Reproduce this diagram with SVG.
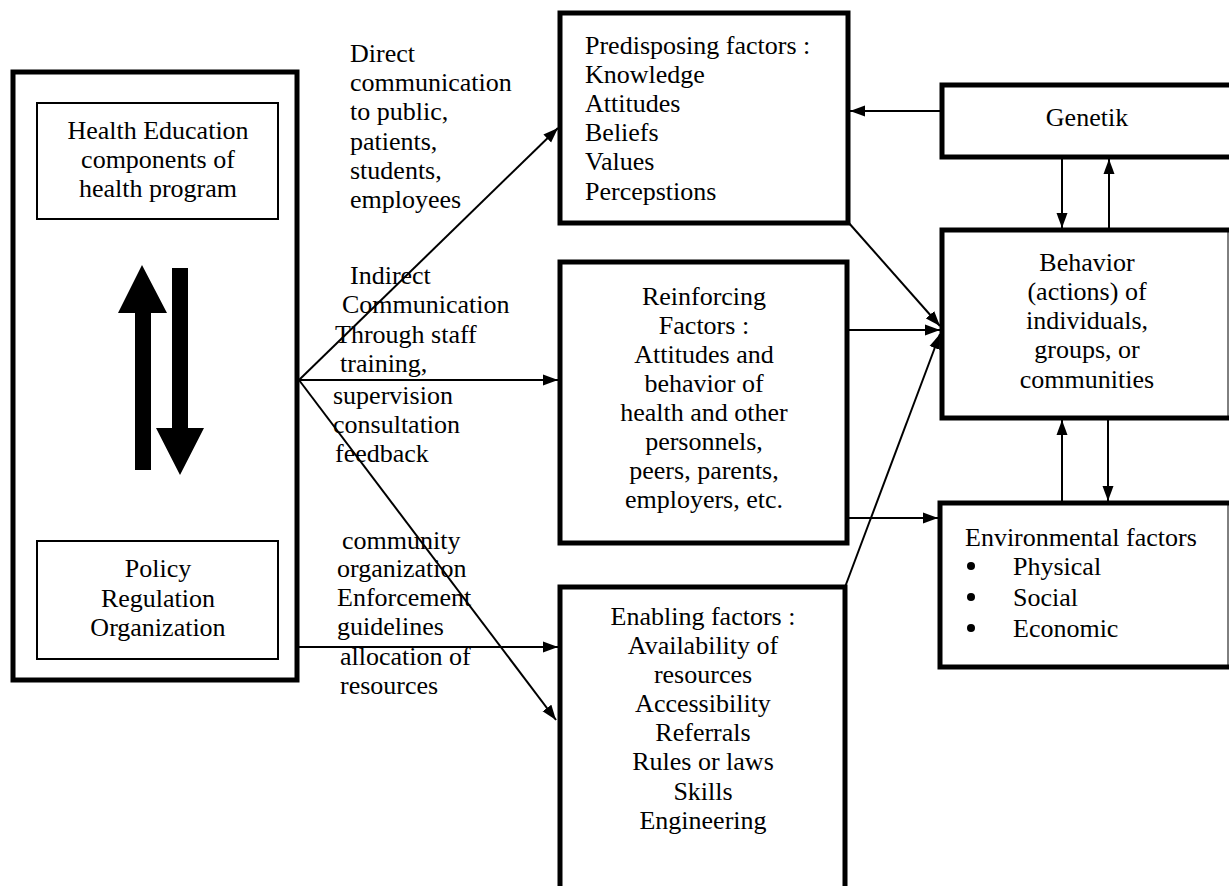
<svg xmlns="http://www.w3.org/2000/svg" width="1229" height="886" viewBox="0 0 1229 886">
<defs>
<marker id="ah" markerUnits="userSpaceOnUse" markerWidth="16" markerHeight="12" refX="15" refY="6" orient="auto">
<path d="M0,0.5 L15,6 L0,11.5 z" fill="#000"/>
</marker>
<style>
text{font-family:"Liberation Serif","Times New Roman",serif;font-size:26px;fill:#000}
.c{text-anchor:middle}
.thick{fill:#fff;stroke:#000;stroke-width:5}
.thin{fill:none;stroke:#000;stroke-width:2}
.conn line{stroke:#000;stroke-width:2;marker-end:url(#ah)}
</style>
</defs>
<rect width="1229" height="886" fill="#fff"/>

<g id="program">
<rect class="thick" x="13" y="72" width="284" height="608"/>
<g id="health-education">
<rect class="thin" x="37" y="103" width="241" height="116"/>
<text class="c" x="158" y="139">Health Education</text>
<text class="c" x="158" y="168">components of</text>
<text class="c" x="158" y="197">health program</text>
</g>
<g id="exchange-arrows">
<polygon points="142,265 167,313 151,313 151,470 135,470 135,313 118,313" fill="#000"/>
<polygon points="172,268 188,268 188,428 204,428 180,475 156,428 172,428" fill="#000"/>
</g>
<g id="policy">
<rect class="thin" x="37" y="541" width="241" height="118"/>
<text class="c" x="158" y="577">Policy</text>
<text class="c" x="158" y="607">Regulation</text>
<text class="c" x="158" y="636">Organization</text>
</g>
</g>

<g id="predisposing">
<rect class="thick" x="560" y="13" width="288" height="210"/>
<text x="585" y="54">Predisposing factors :</text>
<text x="585" y="83">Knowledge</text>
<text x="585" y="112">Attitudes</text>
<text x="585" y="141">Beliefs</text>
<text x="585" y="170">Values</text>
<text x="585" y="200">Percepstions</text>
</g>

<g id="reinforcing">
<rect class="thick" x="560" y="262" width="287" height="281"/>
<text class="c" x="704" y="305">Reinforcing</text>
<text class="c" x="704" y="334">Factors :</text>
<text class="c" x="704" y="363">Attitudes and</text>
<text class="c" x="704" y="392">behavior of</text>
<text class="c" x="704" y="421">health and other</text>
<text class="c" x="704" y="450">personnels,</text>
<text class="c" x="704" y="479">peers, parents,</text>
<text class="c" x="704" y="508">employers, etc.</text>
</g>

<g id="enabling">
<rect class="thick" x="560" y="587" width="285" height="320"/>
<text class="c" x="703" y="625">Enabling factors :</text>
<text class="c" x="703" y="654">Availability of</text>
<text class="c" x="703" y="683">resources</text>
<text class="c" x="703" y="712">Accessibility</text>
<text class="c" x="703" y="741">Referrals</text>
<text class="c" x="703" y="770">Rules or laws</text>
<text class="c" x="703" y="800">Skills</text>
<text class="c" x="703" y="829">Engineering</text>
</g>

<g id="genetik">
<rect class="thick" x="942" y="85" width="300" height="72"/>
<text class="c" x="1087" y="126">Genetik</text>
</g>

<g id="behavior">
<rect class="thick" x="942" y="230" width="300" height="188"/>
<line x1="1228" y1="232" x2="1228" y2="416" stroke="#000" stroke-width="1"/>
<text class="c" x="1087" y="271">Behavior</text>
<text class="c" x="1087" y="300">(actions) of</text>
<text class="c" x="1087" y="329">individuals,</text>
<text class="c" x="1087" y="358">groups, or</text>
<text class="c" x="1087" y="388">communities</text>
</g>

<g id="environmental">
<rect class="thick" x="940" y="503" width="302" height="164"/>
<line x1="1228" y1="505" x2="1228" y2="665" stroke="#000" stroke-width="1"/>
<text x="965" y="546">Environmental factors</text>
<circle cx="971" cy="566" r="4"/>
<circle cx="971" cy="597" r="4"/>
<circle cx="971" cy="628" r="4"/>
<text x="1013" y="575">Physical</text>
<text x="1013" y="606">Social</text>
<text x="1013" y="637">Economic</text>
</g>

<g id="labels">
<text x="350" y="62">Direct</text>
<text x="350" y="91">communication</text>
<text x="350" y="120">to public,</text>
<text x="350" y="150">patients,</text>
<text x="350" y="179">students,</text>
<text x="350" y="208">employees</text>
<text x="350" y="284">Indirect</text>
<text x="342" y="313">Communication</text>
<text x="335" y="343">Through staff</text>
<text x="340" y="372">training,</text>
<text x="333" y="404">supervision</text>
<text x="333" y="433">consultation</text>
<text x="335" y="462">feedback</text>
<text x="342" y="549">community</text>
<text x="337" y="577">organization</text>
<text x="337" y="606">Enforcement</text>
<text x="337" y="635">guidelines</text>
<text x="340" y="665">allocation of</text>
<text x="340" y="694">resources</text>
</g>

<g id="connectors" class="conn">
<line x1="299" y1="380" x2="558" y2="128"/>
<line x1="299" y1="380" x2="558" y2="380"/>
<line x1="299" y1="380" x2="556" y2="720"/>
<line x1="299" y1="647" x2="558" y2="647"/>
<line x1="942" y1="111" x2="850" y2="111"/>
<line x1="848" y1="222" x2="940" y2="326"/>
<line x1="848" y1="330" x2="940" y2="330"/>
<line x1="845" y1="587" x2="940" y2="334"/>
<line x1="848" y1="518" x2="938" y2="518"/>
<line x1="1062" y1="157" x2="1062" y2="228"/>
<line x1="1109" y1="230" x2="1109" y2="159"/>
<line x1="1062" y1="503" x2="1062" y2="420"/>
<line x1="1108" y1="418" x2="1108" y2="501"/>
</g>
</svg>
